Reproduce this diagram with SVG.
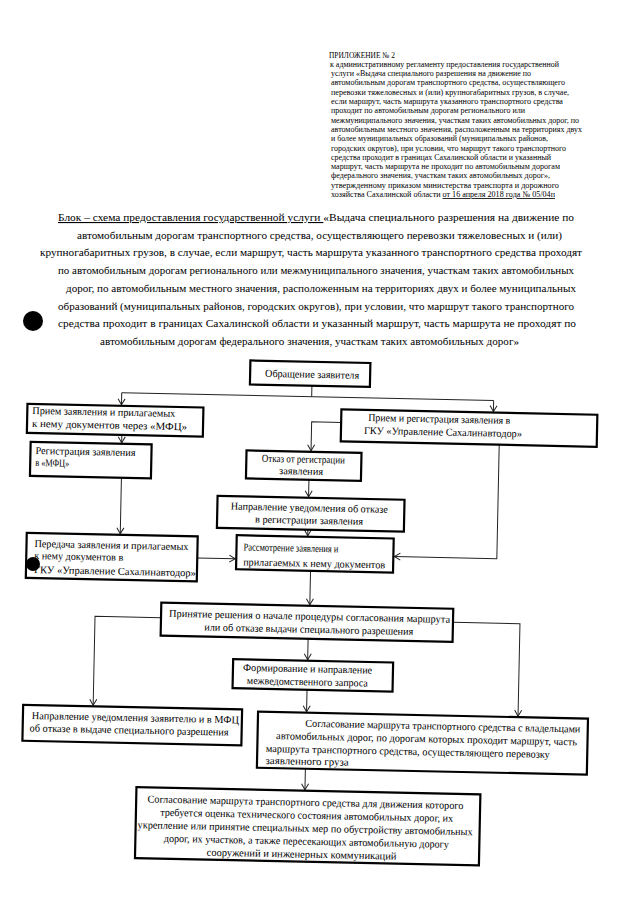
<svg xmlns="http://www.w3.org/2000/svg" width="640" height="905" viewBox="0 0 640 905">
<style>
text{font-family:"Liberation Serif","Times New Roman","DejaVu Serif",serif;fill:#000}
.h{font-size:8.3px}
.ti{font-size:11px}
.b{font-size:10.5px}
.m{text-anchor:middle}
.box{fill:#fff;stroke:#000;stroke-width:2.2}
.c{fill:none;stroke:#222;stroke-width:1}
.ar{marker-end:url(#arr)}
.u{text-decoration:underline}
</style>
<defs>
<marker id="arr" viewBox="-8 -5 10 10" refX="0" refY="0" markerWidth="10" markerHeight="10" markerUnits="userSpaceOnUse" orient="auto">
<path d="M-6,-3.5 L0,0 L-6,3.5" fill="none" stroke="#222" stroke-width="1"/>
</marker>
</defs>
<rect width="640" height="905" fill="#fff"/>

<g id="header" class="h">
<text x="329" y="57.5" textLength="66" lengthAdjust="spacingAndGlyphs">ПРИЛОЖЕНИЕ № 2</text>
<text x="330" y="66.8" textLength="229" lengthAdjust="spacingAndGlyphs">к административному регламенту предоставления государственной</text>
<text x="331" y="76.1" textLength="200" lengthAdjust="spacingAndGlyphs">услуги «Выдача специального разрешения на движение по</text>
<text x="331" y="85.4" textLength="234" lengthAdjust="spacingAndGlyphs">автомобильным дорогам транспортного средства, осуществляющего</text>
<text x="331" y="94.7" textLength="238" lengthAdjust="spacingAndGlyphs">перевозки тяжеловесных и (или) крупногабаритных грузов, в случае,</text>
<text x="331" y="104" textLength="232" lengthAdjust="spacingAndGlyphs">если маршрут, часть маршрута указанного транспортного средства</text>
<text x="331" y="113.3" textLength="194" lengthAdjust="spacingAndGlyphs">проходит по автомобильным дорогам регионального или</text>
<text x="331" y="122.6" textLength="248" lengthAdjust="spacingAndGlyphs">межмуниципального значения, участкам таких автомобильных дорог, по</text>
<text x="331" y="131.9" textLength="251" lengthAdjust="spacingAndGlyphs">автомобильным местного значения, расположенным на территориях двух</text>
<text x="331" y="141.2" textLength="217" lengthAdjust="spacingAndGlyphs">и более муниципальных образований (муниципальных районов,</text>
<text x="331" y="150.5" textLength="235" lengthAdjust="spacingAndGlyphs">городских округов), при условии, что маршрут такого транспортного</text>
<text x="331" y="159.8" textLength="220" lengthAdjust="spacingAndGlyphs">средства проходит в границах Сахалинской области и указанный</text>
<text x="331" y="169.1" textLength="229" lengthAdjust="spacingAndGlyphs">маршрут, часть маршрута не проходит по автомобильным дорогам</text>
<text x="331" y="178.4" textLength="219" lengthAdjust="spacingAndGlyphs">федерального значения, участкам таких автомобильных дорог»,</text>
<text x="331" y="187.7" textLength="228" lengthAdjust="spacingAndGlyphs">утвержденному  приказом министерства транспорта и дорожного</text>
<text x="331" y="197" textLength="224" lengthAdjust="spacingAndGlyphs">хозяйства Сахалинской области  <tspan class="u">от 16 апреля 2018 года № 05/04п</tspan></text>
</g>

<g id="title" class="ti">
<text x="58" y="221" textLength="516" lengthAdjust="spacingAndGlyphs"><tspan class="u">Блок – схема предоставления государственной услуги </tspan>«Выдача специального разрешения на движение по</text>
<text x="77" y="238.7" textLength="485" lengthAdjust="spacingAndGlyphs">автомобильным дорогам транспортного средства, осуществляющего перевозки тяжеловесных и (или)</text>
<text x="40" y="256.4" textLength="542" lengthAdjust="spacingAndGlyphs">крупногабаритных грузов, в случае, если маршрут, часть маршрута указанного транспортного средства проходят</text>
<text x="58" y="274.1" textLength="516" lengthAdjust="spacingAndGlyphs">по автомобильным дорогам регионального или межмуниципального значения, участкам таких автомобильных</text>
<text x="66" y="291.8" textLength="510" lengthAdjust="spacingAndGlyphs">дорог, по автомобильным местного значения, расположенным на территориях двух и более муниципальных</text>
<text x="58" y="309.5" textLength="516" lengthAdjust="spacingAndGlyphs">образований (муниципальных районов, городских округов), при условии, что маршрут такого транспортного</text>
<text x="58" y="327.2" textLength="518" lengthAdjust="spacingAndGlyphs">средства проходит в границах Сахалинской области и указанный маршрут, часть маршрута не проходят по</text>
<text x="100" y="344.9" textLength="419" lengthAdjust="spacingAndGlyphs">автомобильным дорогам федерального значения, участкам таких автомобильных дорог»</text>
</g>

<circle id="dot1" cx="33" cy="321" r="10" fill="#000"/>

<g id="flowchart" transform="rotate(1.2 320 620)">
<g id="connectors">
<path class="c" d="M307,386 V397"/>
<path class="c" d="M117,397 H489"/>
<path class="c ar" d="M117,397 V409"/>
<path class="c ar" d="M489,397 V408"/>
<path class="c ar" d="M118,439 V447"/>
<path class="c ar" d="M118.5,482 V538"/>
<path class="c ar" d="M337,422 H307.5 V451"/>
<path class="c ar" d="M306,480 V497"/>
<path class="c ar" d="M306,530 V536"/>
<path class="c ar" d="M196,560.5 H234"/>
<path class="c ar" d="M495.5,441 V555 H393"/>
<path class="c ar" d="M309.5,571 V605"/>
<path class="c ar" d="M161,621 H95 V710"/>
<path class="c ar" d="M453,619.5 H520 V712"/>
<path class="c ar" d="M308.5,639 V660"/>
<path class="c ar" d="M308.5,690 V712"/>
<path class="c ar" d="M308.5,769 V790"/>
</g>

<g id="n1" class="b">
<rect class="box" x="245" y="362" width="120" height="24"/>
<text class="m" x="307" y="378" textLength="94" lengthAdjust="spacingAndGlyphs">Обращение заявителя</text>
</g>
<g id="n2" class="b">
<rect class="box" x="23" y="410" width="176" height="29"/>
<text x="28" y="420" textLength="143" lengthAdjust="spacingAndGlyphs">Прием заявления и прилагаемых</text>
<text x="28" y="433" textLength="155" lengthAdjust="spacingAndGlyphs">к нему документов через «МФЦ»</text>
</g>
<g id="n3" class="b">
<rect class="box" x="337" y="409" width="256" height="32"/>
<text x="364" y="420" textLength="142" lengthAdjust="spacingAndGlyphs">Прием и регистрация заявления в</text>
<text x="360" y="433" textLength="158" lengthAdjust="spacingAndGlyphs">ГКУ «Управление Сахалинавтодор»</text>
</g>
<g id="n4" class="b">
<rect class="box" x="27" y="448" width="121" height="34"/>
<text x="32" y="460" textLength="100" lengthAdjust="spacingAndGlyphs">Регистрация заявления</text>
<text x="32" y="472" textLength="34" lengthAdjust="spacingAndGlyphs">в «МФЦ»</text>
</g>
<g id="n5" class="b">
<rect class="box" x="243" y="452" width="115" height="28"/>
<text class="m" x="300" y="463" textLength="83" lengthAdjust="spacingAndGlyphs">Отказ от регистрации</text>
<text class="m" x="298" y="475" textLength="44" lengthAdjust="spacingAndGlyphs">заявления</text>
</g>
<g id="n6" class="b">
<rect class="box" x="215" y="498" width="187" height="32"/>
<text class="m" x="307" y="511.5" textLength="157" lengthAdjust="spacingAndGlyphs">Направление уведомления об отказе</text>
<text class="m" x="307" y="524" textLength="108" lengthAdjust="spacingAndGlyphs">в регистрации заявления</text>
</g>
<g id="n7" class="b">
<rect class="box" x="25" y="539" width="171" height="45"/>
<text x="33" y="553" textLength="154" lengthAdjust="spacingAndGlyphs">Передача заявления и прилагаемых</text>
<text x="33" y="565" textLength="89" lengthAdjust="spacingAndGlyphs">к нему документов в</text>
<text x="33" y="579" textLength="162" lengthAdjust="spacingAndGlyphs">ГКУ «Управление Сахалинавтодор»</text>
</g>
<g id="n8" class="b">
<rect class="box" x="235" y="537" width="157" height="34"/>
<text x="242" y="552" textLength="95" lengthAdjust="spacingAndGlyphs">Рассмотрение заявления и</text>
<text x="242" y="567" textLength="142" lengthAdjust="spacingAndGlyphs">прилагаемых к нему документов</text>
</g>
<g id="n9" class="b">
<rect class="box" x="161" y="606" width="292" height="33"/>
<text class="m" x="309.5" y="620" textLength="281" lengthAdjust="spacingAndGlyphs">Принятие решения о начале процедуры согласования маршрута</text>
<text class="m" x="309" y="633" textLength="209" lengthAdjust="spacingAndGlyphs">или об отказе выдачи специального разрешения</text>
</g>
<g id="n10" class="b">
<rect class="box" x="234" y="661" width="160" height="29"/>
<text class="m" x="308.7" y="672.5" textLength="129" lengthAdjust="spacingAndGlyphs">Формирование и направление</text>
<text class="m" x="308.7" y="685.5" textLength="121" lengthAdjust="spacingAndGlyphs">межведомственного запроса</text>
</g>
<g id="n11" class="b">
<rect class="box" x="25" y="711" width="219" height="36"/>
<text x="34" y="725" textLength="207" lengthAdjust="spacingAndGlyphs">Направление уведомления заявителю и в МФЦ</text>
<text x="32" y="737.5" textLength="199" lengthAdjust="spacingAndGlyphs">об отказе в выдаче специального разрешения</text>
</g>
<g id="n12" class="b">
<rect class="box" x="260" y="713" width="330" height="56"/>
<text x="307.6" y="727" textLength="275" lengthAdjust="spacingAndGlyphs">Согласование маршрута транспортного средства с владельцами</text>
<text x="278.6" y="740" textLength="301" lengthAdjust="spacingAndGlyphs">автомобильных дорог, по дорогам которых проходит маршрут, часть</text>
<text x="268.6" y="753" textLength="284" lengthAdjust="spacingAndGlyphs">маршрута транспортного средства, осуществляющего перевозку</text>
<text x="268.6" y="765" textLength="83" lengthAdjust="spacingAndGlyphs">заявленного груза</text>
</g>
<g id="n13" class="b">
<rect class="box" x="140" y="791" width="344" height="71"/>
<text class="m" x="309.3" y="806" textLength="316" lengthAdjust="spacingAndGlyphs">Согласование маршрута транспортного средства для движения которого</text>
<text class="m" x="310.8" y="819" textLength="293" lengthAdjust="spacingAndGlyphs">требуется оценка технического состояния автомобильных дорог, их</text>
<text class="m" x="309.5" y="832" textLength="335" lengthAdjust="spacingAndGlyphs">укрепление или принятие специальных мер по обустройству автомобильных</text>
<text class="m" x="311" y="845" textLength="285" lengthAdjust="spacingAndGlyphs">дорог, их участков, а также пересекающих автомобильную дорогу</text>
<text class="m" x="306.5" y="858" textLength="190" lengthAdjust="spacingAndGlyphs">сооружений и инженерных коммуникаций</text>
</g>
</g>

<circle id="dot2" cx="33" cy="564" r="7" fill="#000"/>
</svg>
